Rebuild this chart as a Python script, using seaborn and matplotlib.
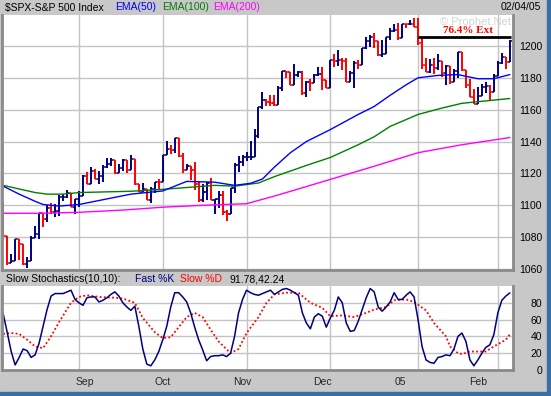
import numpy as np
import matplotlib
matplotlib.use("Agg")
import matplotlib.pyplot as plt
import seaborn as sns

# =========================
# PRICE DATA (Aug 5 2004 - Feb 4 2005, one row per trading day)
# =========================
closes = [
    1080.70, 1063.97, 1065.22, 1079.04, 1075.79, 1063.23, 1064.80, 1079.34, 1081.71, 1095.17,
    1091.23, 1098.35, 1095.68, 1096.19, 1104.96, 1105.09, 1107.77, 1099.15, 1104.24,
    1105.91, 1118.31, 1113.63, 1121.30, 1116.27, 1118.38, 1123.92, 1125.82, 1128.33, 1120.37,
    1123.50, 1128.55, 1122.20, 1129.30, 1113.56, 1108.36, 1110.11, 1103.52, 1110.06, 1114.80, 1114.58,
    1131.50, 1135.17, 1134.48, 1142.05, 1130.65, 1122.14, 1124.39, 1121.84, 1113.65, 1103.29,
    1108.20, 1114.02, 1103.23, 1103.66, 1106.49, 1095.74, 1094.80, 1111.09, 1125.40, 1127.44, 1130.20,
    1130.51, 1130.56, 1143.20, 1161.67, 1166.17, 1164.89, 1164.08, 1162.91, 1173.48, 1184.17,
    1183.81, 1175.43, 1181.94, 1183.55, 1170.34, 1177.24, 1176.94, 1181.76, 1182.65, 1178.57, 1173.82,
    1191.37, 1190.33, 1191.17, 1190.25, 1177.07, 1182.81, 1189.24, 1188.00, 1198.68, 1203.38, 1205.72,
    1203.21, 1194.20, 1194.65, 1205.45, 1209.57, 1210.13, 1204.92, 1213.54, 1213.45, 1213.55, 1211.92,
    1202.08, 1188.05, 1183.74, 1187.89, 1186.19, 1190.25, 1182.99, 1187.70, 1177.45, 1184.52,
    1195.98, 1184.63, 1175.41, 1167.87, 1163.75, 1168.41, 1174.07, 1174.55, 1171.36, 1181.27,
    1189.41, 1193.19, 1189.89, 1203.03,
]
opens = [
    1098.63, 1080.70, 1063.97, 1065.22, 1079.04, 1075.79, 1063.23, 1064.80, 1079.34, 1081.71,
    1095.17, 1091.23, 1098.35, 1095.68, 1096.19, 1104.96, 1105.09, 1107.77, 1099.15,
    1104.24, 1105.91, 1118.31, 1113.63, 1121.30, 1116.27, 1118.38, 1123.92, 1125.82, 1128.33,
    1120.37, 1123.50, 1128.55, 1122.20, 1129.30, 1113.56, 1108.36, 1110.11, 1103.52, 1110.06, 1114.80,
    1114.58, 1131.50, 1135.17, 1134.48, 1142.05, 1130.65, 1122.14, 1124.39, 1121.84, 1113.65,
    1103.29, 1108.20, 1114.02, 1103.23, 1103.66, 1106.49, 1095.74, 1094.80, 1111.09, 1125.40, 1127.44,
    1130.20, 1130.51, 1130.56, 1143.20, 1161.67, 1166.17, 1164.89, 1164.08, 1162.91, 1173.48,
    1184.17, 1183.81, 1175.43, 1181.94, 1183.55, 1170.34, 1177.24, 1176.94, 1181.76, 1182.65, 1178.57,
    1173.82, 1191.37, 1190.33, 1191.17, 1190.25, 1177.07, 1182.81, 1189.24, 1188.00, 1198.68, 1203.38,
    1205.72, 1203.21, 1194.20, 1194.65, 1205.45, 1209.57, 1210.13, 1204.92, 1213.54, 1213.45, 1213.55,
    1211.92, 1202.08, 1188.05, 1183.74, 1187.89, 1186.19, 1190.25, 1182.99, 1187.70, 1177.45,
    1184.52, 1195.98, 1184.63, 1175.41, 1167.87, 1163.75, 1168.41, 1174.07, 1174.55, 1171.36,
    1181.27, 1189.41, 1193.19, 1189.89,
]
highs = [
    1102.00, 1080.70, 1069.46, 1079.04, 1079.04, 1075.79, 1067.58, 1080.66, 1086.78, 1095.17,
    1095.17, 1100.26, 1101.40, 1100.94, 1106.29, 1106.78, 1109.68, 1107.77, 1104.24,
    1109.24, 1119.11, 1120.80, 1124.08, 1123.05, 1121.30, 1125.26, 1129.78, 1129.46, 1128.33,
    1126.06, 1129.30, 1128.55, 1131.54, 1129.30, 1113.61, 1113.81, 1110.11, 1111.77, 1114.80, 1116.31,
    1131.64, 1140.13, 1137.87, 1142.05, 1142.05, 1132.92, 1126.20, 1124.39, 1127.01, 1114.63,
    1113.17, 1114.46, 1117.28, 1104.09, 1108.87, 1108.81, 1096.81, 1111.10, 1126.29, 1130.67, 1131.40,
    1133.41, 1140.48, 1147.57, 1161.67, 1170.87, 1166.77, 1168.96, 1169.25, 1174.80, 1184.17,
    1184.48, 1183.81, 1188.46, 1184.00, 1184.46, 1178.29, 1179.52, 1182.46, 1186.62, 1186.94, 1178.66,
    1191.37, 1194.80, 1197.46, 1192.41, 1192.41, 1184.05, 1190.51, 1191.45, 1198.74, 1205.29, 1206.61,
    1207.97, 1203.21, 1203.43, 1205.45, 1211.08, 1213.66, 1214.13, 1213.54, 1213.85, 1216.47, 1217.33,
    1217.80, 1205.84, 1192.73, 1191.63, 1192.20, 1194.78, 1190.25, 1187.92, 1187.70, 1185.21,
    1195.98, 1195.98, 1184.63, 1179.45, 1173.03, 1174.30, 1175.96, 1177.50, 1175.61, 1182.16,
    1190.39, 1195.25, 1193.19, 1203.47,
]
lows = [
    1079.98, 1062.23, 1063.97, 1065.22, 1065.92, 1062.82, 1060.72, 1064.80, 1079.34, 1078.93,
    1086.28, 1089.57, 1094.73, 1092.82, 1093.24, 1102.46, 1104.62, 1099.15, 1094.72,
    1099.18, 1105.60, 1113.57, 1113.63, 1116.27, 1113.62, 1114.39, 1123.35, 1124.72, 1119.82,
    1120.37, 1121.83, 1120.34, 1122.20, 1112.67, 1108.05, 1108.36, 1103.24, 1101.29, 1107.42, 1109.68,
    1114.58, 1131.50, 1132.03, 1132.94, 1130.50, 1120.19, 1122.14, 1115.77, 1109.63, 1102.06,
    1102.14, 1103.33, 1103.15, 1094.25, 1098.47, 1093.97, 1090.29, 1094.80, 1107.43, 1120.60, 1124.62,
    1127.60, 1128.12, 1130.56, 1142.34, 1160.66, 1162.32, 1162.48, 1162.51, 1162.91, 1171.43,
    1179.85, 1175.32, 1175.43, 1180.19, 1169.19, 1167.89, 1171.41, 1176.94, 1181.08, 1172.37, 1173.81,
    1173.82, 1186.72, 1187.71, 1185.18, 1177.07, 1177.07, 1173.79, 1185.24, 1188.00, 1197.84, 1199.44,
    1198.41, 1193.49, 1193.36, 1194.62, 1203.85, 1208.71, 1203.83, 1204.92, 1210.95, 1213.41, 1211.65,
    1200.32, 1185.39, 1183.72, 1183.27, 1182.16, 1184.80, 1180.43, 1175.64, 1175.81, 1177.45,
    1180.10, 1184.41, 1173.42, 1167.82, 1163.75, 1163.75, 1168.41, 1170.15, 1166.25, 1171.36,
    1180.95, 1188.92, 1185.64, 1189.67,
]

# =========================
# MOVING AVERAGES (at a few days)
# =========================
ema50_day = [0, 4, 8, 10, 14, 19, 26, 32, 40, 46, 53, 58, 62, 65, 68, 72, 76, 82, 89, 93,
             97, 101, 104, 109, 114, 119, 123, 127]
ema50_val = [1112, 1107, 1102.5, 1100.5, 1099.5, 1100.5, 1104, 1107, 1109, 1115, 1114.5, 1112.5,
             1113.8, 1116.5, 1124, 1133, 1140, 1147.5, 1157, 1162, 1169, 1175.6, 1180, 1181.5,
             1182, 1179.4, 1179.4, 1182]

ema100_day = [0, 8, 11, 15, 19, 32, 40, 53, 58, 64, 68, 76, 82, 89, 93, 97, 104, 110, 115,
              121, 127]
ema100_val = [1112.5, 1108, 1107, 1107, 1108, 1108.8, 1110, 1112.5, 1112, 1114, 1118, 1125,
              1130, 1138, 1143, 1149.5, 1157, 1161, 1164, 1165.5, 1167]

ema200_day = [0, 10, 19, 30, 40, 50, 61, 68, 75, 83, 93, 104, 115, 127]
ema200_val = [1095, 1095, 1095.6, 1097, 1098.8, 1100, 1101, 1105.8, 1111, 1117, 1124.5, 1133,
              1138, 1142.5]

# =========================
# STOCHASTICS
# =========================
fast_k = [
    67, 45, 22, 6, 15, 25, 23, 15, 18, 32, 52, 72, 88, 91, 91, 91, 93, 95, 84, 80,
    77, 86, 87, 87, 81, 83, 86, 90, 93, 88, 80, 75, 71, 76, 52, 25, 7, 5, 12, 22,
    36, 52, 75, 92, 92, 87, 81, 68, 51, 36, 24, 11, 16, 17, 17, 18, 16, 20, 40, 68,
    84, 95, 92, 90, 89, 91, 93, 95, 90, 93, 96, 97, 95, 92, 89, 68, 56, 49, 63, 67,
    64, 51, 62, 71, 87, 80, 56, 46, 47, 58, 72, 86, 97, 93, 75, 70, 75, 81, 92, 84,
    84, 89, 93, 87, 60, 28, 12, 9, 8, 15, 16, 18, 17, 25, 40, 44, 34, 12, 5, 12,
    20, 27, 30, 42, 68, 83, 88, 91.78,
]
slow_d_day = [0, 2, 4, 6, 8, 10, 12, 14, 17, 19, 21, 24, 28, 30, 33, 35, 38, 40, 42, 44,
              46, 48, 50, 52, 54, 57, 59, 61, 64, 66, 68, 71, 74, 77, 80, 82, 85, 88, 91, 93,
              96, 98, 101, 103, 106, 108, 111, 112, 114, 115, 117, 118, 121, 123, 126, 127]
slow_d_val = [43, 44, 43, 36, 28, 26, 40, 57, 80, 87, 89, 87, 86, 85, 80, 62, 45, 38, 39, 51,
              63, 68, 63, 48, 34, 20, 25, 44, 63, 80, 90, 92, 92, 80, 74, 64, 65, 63, 68, 72,
              75, 83, 84, 81, 71, 56, 40, 28, 20, 19, 22, 22, 22, 28, 36, 42.24]

# =========================
# AXIS LABELS
# =========================
month_start = [19, 40, 61, 82, 104, 124]
month_label_pos = [20.5, 40, 60, 80, 99.5, 119]
month_labels = ["Sep", "Oct", "Nov", "Dec", "05", "Feb"]
price_ticks = [1060, 1080, 1100, 1120, 1140, 1160, 1180, 1200]
stoch_ticks = [0, 20, 40, 60, 80]

ext_level = 1205.7
ext_from, ext_to = 104, 127.3

# =========================
# STYLE
# =========================
sns.set_style("white")
plt.rcParams["font.family"] = ["Liberation Sans", "DejaVu Sans"]

BG = "#c8c8c8"
NAVY = "#000080"
RED = "#ff0000"
GRID = "#c4c4c4"
BORDER = "#8a8a8a"

W, H = 551, 396
fig = plt.figure(figsize=(W / 100, H / 100), dpi=100, facecolor=BG)
ax_top = fig.add_axes([2 / W, 1 - 270 / H, 511 / W, 255 / H])
ax_bot = fig.add_axes([2 / W, 1 - 370 / H, 511 / W, 84 / H])

days = np.arange(len(closes))
bar_colors = [NAVY if c >= o else RED for o, c in zip(opens, closes)]

# =========================
# PRICE PANEL
# =========================
ax_top.vlines(days, lows, highs, colors=bar_colors, linewidth=1.4)
ax_top.hlines(opens, days - 0.55, days, colors=bar_colors, linewidth=1.1)
ax_top.hlines(closes, days, days + 0.55, colors=bar_colors, linewidth=1.1)

sns.lineplot(x=ema200_day, y=ema200_val, ax=ax_top, color="#ff00ff", linewidth=1)
sns.lineplot(x=ema100_day, y=ema100_val, ax=ax_top, color="#008000", linewidth=1)
sns.lineplot(x=ema50_day, y=ema50_val, ax=ax_top, color="#0000ff", linewidth=1)

ax_top.hlines(ext_level, ext_from, ext_to, colors="black", linewidth=2)
ax_top.text(116.5, ext_level + 1.3, "76.4% Ext", color=RED, fontsize=8,
            fontweight="bold", family="Liberation Serif", ha="center", va="bottom")
ax_top.text(118.5, 1215, "\u00a9 Prophet.Net", color="#d4d4d4", fontsize=8,
            ha="center", va="center", zorder=0)

ax_top.set_xlim(-0.3, 127.8)
ax_top.set_ylim(1059.4, 1219.4)
ax_top.set_yticks(price_ticks)
ax_top.set_yticklabels([str(t) for t in price_ticks])
ax_top.set_xticks([])
ax_top.set_xticks(month_start, minor=True)

# =========================
# STOCHASTICS PANEL
# =========================
sns.lineplot(x=slow_d_day, y=slow_d_val, ax=ax_bot, color=RED, linewidth=1.3,
             linestyle=(0, (1, 1.3)))
sns.lineplot(x=days, y=fast_k, ax=ax_bot, color=NAVY, linewidth=1.1)

ax_bot.set_xlim(-0.3, 127.8)
ax_bot.set_ylim(0, 100)
ax_bot.set_yticks(stoch_ticks)
ax_bot.set_yticklabels([str(t) for t in stoch_ticks])
ax_bot.set_xticks(month_label_pos)
ax_bot.set_xticklabels(month_labels)
ax_bot.set_xticks(month_start, minor=True)

for ax in (ax_top, ax_bot):
    ax.set_facecolor("white")
    ax.set_xlabel("")
    ax.set_ylabel("")
    ax.grid(which="minor", axis="x", color=GRID, linewidth=1)
    ax.grid(which="major", axis="y", color=GRID, linewidth=1)
    ax.grid(which="major", axis="x", visible=False)
    ax.set_axisbelow(True)
    ax.yaxis.tick_right()
    ax.tick_params(axis="y", length=0, pad=21, labelsize=7.5, labelcolor="black")
    ax.tick_params(axis="x", which="both", length=0, pad=5, labelsize=7.5)
    for lab in ax.get_yticklabels():
        lab.set_ha("right")
    ax.spines["top"].set_visible(False)
    for side in ("left", "right", "bottom"):
        ax.spines[side].set_color(BORDER)
        ax.spines[side].set_linewidth(2)

# =========================
# HEADER TEXTS
# =========================
def fig_text(x, y, s, color="black", ha="left"):
    fig.text(x / W, 1 - y / H, s, color=color, fontsize=7.5, ha=ha, va="center")

fig_text(5, 7.5, "$SPX-S&P 500 Index")
fig_text(115, 7.5, "EMA(50)", "#0000ff")
fig_text(162, 7.5, "EMA(100)", "#008000")
fig_text(213, 7.5, "EMA(200)", "#ff00ff")
fig_text(541, 7.5, "02/04/05", ha="right")

fig_text(6, 279, "Slow Stochastics(10,10):")
fig_text(135, 279, "Fast %K", NAVY)
fig_text(180, 279, "Slow %D", RED)
fig_text(230, 279, "91.78,42.24")

# window frame stripes
fig.patches.append(plt.Rectangle((547 / W, 0), 4 / W, 1, transform=fig.transFigure,
                                 color="#3a6ea5", zorder=0))
fig.patches.append(plt.Rectangle((0, 0), 1, 4 / H, transform=fig.transFigure,
                                 color="#3a6ea5", zorder=0))

fig.savefig("out.png", dpi=100, facecolor=BG)
plt.close(fig)
